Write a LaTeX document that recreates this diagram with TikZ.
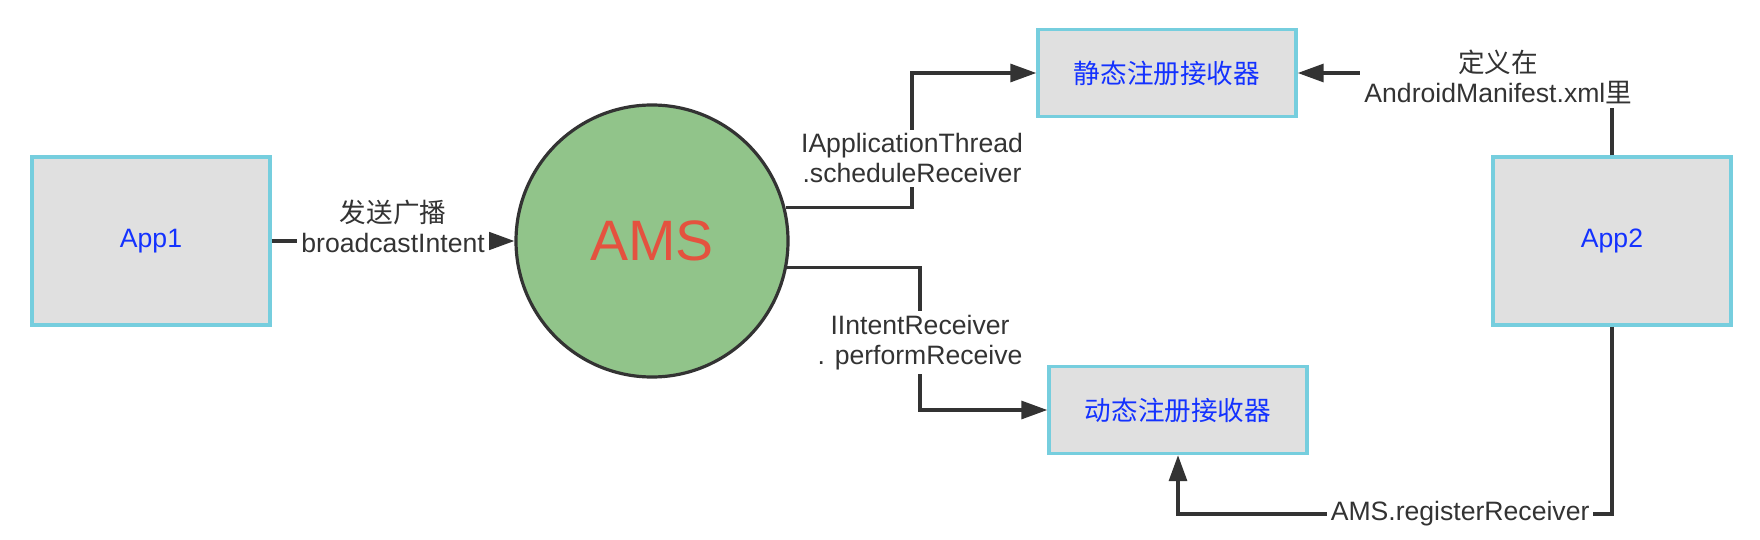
\documentclass[tikz,border=0pt]{standalone}
\usepackage{fontspec}
\setmainfont{Liberation Sans}
\newfontfamily\cjk{Noto Sans CJK SC}
\usetikzlibrary{arrows.meta, positioning}
\definecolor{boxfill}{HTML}{E0E0E0}
\definecolor{boxline}{HTML}{76CEDE}
\definecolor{boxtext}{HTML}{1432FF}
\definecolor{amsfill}{HTML}{91C48A}
\definecolor{amstext}{HTML}{E4523F}
\definecolor{linegray}{HTML}{333333}

\begin{document}
\begin{tikzpicture}[
			x=0.5pt, y=-0.5pt,
			block/.style={rectangle, draw=boxline, line width=1.7pt, fill=boxfill, text=boxtext,
				inner sep=0pt, font=\fontsize{13.3}{15}\selectfont},
			app/.style={block, minimum width=119pt, minimum height=84pt},
			recv/.style={block, minimum width=129pt, minimum height=43.5pt},
			amsnode/.style={circle, draw=linegray, line width=1.6pt, fill=amsfill, text=amstext,
				minimum size=136pt, inner sep=0pt, font=\fontsize{28.5}{30}\selectfont},
			arr/.style={-{Triangle[length=13pt, width=9pt]}, draw=linegray, line width=1.6pt},
			lbl/.style={fill=white, text=linegray, align=center, inner sep=2pt,
				font=\fontsize{13.3}{15}\selectfont}
		]
			\useasboundingbox (0,0) rectangle (1760,540);

			\node[app] (app1) at (151,241) {App1};
			\node[amsnode] (ams) at (652,241) {AMS};
			\node[recv] (static) at (1167,73) {\cjk 静态注册接收器};
			\node[recv] (dynamic) at (1178,410) {\cjk 动态注册接收器};
			\node[app] (app2) at (1612,241) {App2};

			\coordinate (upbend) at (912,73);
			\coordinate (lowbend) at (920,410);
			\coordinate (regbend) at (1178,514);

			\draw[arr] (app1.east) -- node[lbl, yshift=7.3pt] {{\cjk 发送广播}\\broadcastIntent} (ams.west);
			\draw[arr] (ams.14.5) -| node[lbl, pos=0.683] {IApplicationThread\\.scheduleReceiver} (upbend) -- (static.west);
			\draw[arr] (ams.-11.4) -| node[lbl, pos=0.764] {IIntentReceiver\\. performReceive} (lowbend) -- (dynamic.west);
			\draw[arr] (app2.north) |- node[lbl, pos=0.681, yshift=-2pt] {{\cjk 定义在}\\AndroidManifest.xml{\cjk 里}} (static.east);
			\draw[arr] (app2.south) |- node[lbl, pos=0.675] {AMS.registerReceiver} (regbend) -- (dynamic.south);
		\end{tikzpicture}
\end{document}
